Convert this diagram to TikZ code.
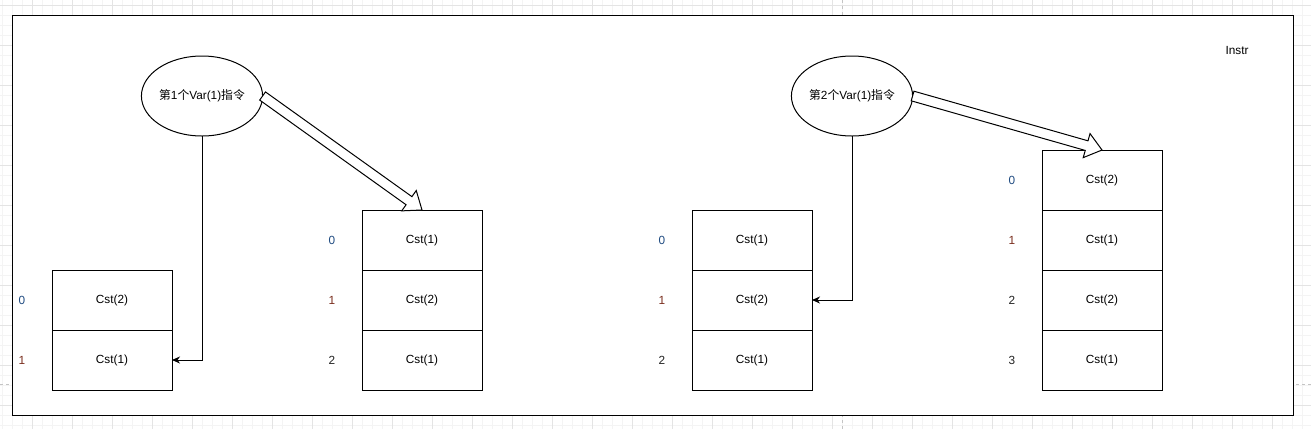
\documentclass[tikz,border=0pt]{standalone}
\usepackage{fontspec}
\setmainfont{Liberation Sans}
\newfontfamily\cjk{Noto Sans CJK SC}
\usetikzlibrary{shapes.geometric,calc,arrows.meta}
\definecolor{gridminor}{HTML}{F4F4F4}
\definecolor{gridmajor}{HTML}{E4E4E4}
\definecolor{pagebrk}{HTML}{C4C4C4}
\definecolor{idxzero}{HTML}{1E4A80}
\definecolor{idxone}{HTML}{7A2E1E}
\definecolor{idxother}{HTML}{222222}
\newcommand\hollowarrow[2]{%
  \draw[line width=1pt, fill=white, line join=miter]
    ($(#1)!5pt!90:(#2)$) --
    ($($(#2)!16pt!(#1)$)!5pt!-90:(#1)$) --
    ($($(#2)!16pt!(#1)$)!12.5pt!-90:(#1)$) --
    (#2) --
    ($($(#2)!16pt!(#1)$)!12.5pt!90:(#1)$) --
    ($($(#2)!16pt!(#1)$)!5pt!90:(#1)$) --
    ($(#1)!5pt!-90:(#2)$) -- cycle;}
\begin{document}
\begin{tikzpicture}[x=1pt,y=-1pt,
  font=\fontsize{11.8}{14}\selectfont,
  cell/.style={draw, line width=1pt, minimum width=120pt, minimum height=60pt, inner sep=0pt, outer sep=0pt},
  instr/.style={draw, ellipse, line width=1pt, minimum width=120pt, minimum height=80pt, inner sep=0pt, outer sep=0pt},
  idx/.style={inner sep=0pt},
  conn/.style={line width=1pt, -{Stealth[length=8pt,width=7pt,inset=2.5pt]}},
  gridline/.style={line width=0.8pt}]
\useasboundingbox (0,0) rectangle (1311,429);
\fill[white] (0,0) rectangle (1311,429);
% background grid
\foreach \x in {2,12,...,1311} \draw[gridline, gridminor] (\x,0) -- (\x,429);
\foreach \y in {5,15,...,429} \draw[gridline, gridminor] (0,\y) -- (1311,\y);
\foreach \x in {32,72,...,1311} \draw[gridline, gridmajor] (\x,0) -- (\x,429);
\foreach \y in {5,45,...,429} \draw[gridline, gridmajor] (0,\y) -- (1311,\y);
\draw[pagebrk, dashed, line width=0.8pt] (842,0) -- (842,429);
\draw[pagebrk, dashed, line width=0.8pt] (0,384) -- (1311,384);
% frame
\draw[line width=1pt, fill=white] (12,15) rectangle (1293,415);
\node (title) at (1237,50) {Instr};
% instructions
\node[instr] (e1) at (202,96) {{\cjk 第}1{\cjk 个}Var(1){\cjk 指令}};
\node[instr] (e2) at (852,96) {{\cjk 第}2{\cjk 个}Var(1){\cjk 指令}};
% stack 1
\node[cell] (a0) at (112,300) {Cst(2)};
\node[cell] (a1) at (112,360) {Cst(1)};
\node[idx, text=idxzero] (la0) at (22,300) {0};
\node[idx, text=idxone] (la1) at (22,360) {1};
% stack 2
\node[cell] (b0) at (422,240) {Cst(1)};
\node[cell] (b1) at (422,300) {Cst(2)};
\node[cell] (b2) at (422,360) {Cst(1)};
\node[idx, text=idxzero] (lb0) at (332,240) {0};
\node[idx, text=idxone] (lb1) at (332,300) {1};
\node[idx, text=idxother] (lb2) at (332,360) {2};
% stack 3
\node[cell] (c0) at (752,240) {Cst(1)};
\node[cell] (c1) at (752,300) {Cst(2)};
\node[cell] (c2) at (752,360) {Cst(1)};
\node[idx, text=idxzero] (lc0) at (662,240) {0};
\node[idx, text=idxone] (lc1) at (662,300) {1};
\node[idx, text=idxother] (lc2) at (662,360) {2};
% stack 4
\node[cell] (d0) at (1102,180) {Cst(2)};
\node[cell] (d1) at (1102,240) {Cst(1)};
\node[cell] (d2) at (1102,300) {Cst(2)};
\node[cell] (d3) at (1102,360) {Cst(1)};
\node[idx, text=idxzero] (ld0) at (1012,180) {0};
\node[idx, text=idxone] (ld1) at (1012,240) {1};
\node[idx, text=idxother] (ld2) at (1012,300) {2};
\node[idx, text=idxother] (ld3) at (1012,360) {3};
% connectors
\draw[conn] (e1.south) |- (a1.east);
\draw[conn] (e2.south) |- (c1.east);
\hollowarrow{e1.east}{b0.north}
\hollowarrow{e2.east}{d0.north}
\end{tikzpicture}
\end{document}
